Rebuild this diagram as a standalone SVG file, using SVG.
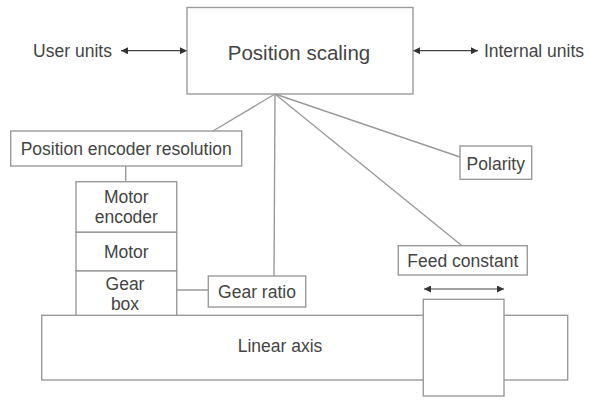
<svg xmlns="http://www.w3.org/2000/svg" width="595" height="401" viewBox="0 0 595 401">
<style>
.box{fill:#fff;stroke:#9a9a9a;stroke-width:1.4}
.ln{fill:none;stroke:#9a9a9a;stroke-width:1.4}
.ar{fill:none;stroke:#444;stroke-width:1.2}
text{font-family:"Liberation Sans",Arial,sans-serif;font-size:17.5px;fill:#444;text-anchor:middle}
.t{font-size:20.5px}
</style>
<defs>
<marker id="ah" viewBox="0 0 10 10" refX="10" refY="5" markerWidth="8" markerHeight="7" markerUnits="userSpaceOnUse" orient="auto-start-reverse">
<path d="M0,0 L10,5 L0,10 Z" fill="#333"/>
</marker>
</defs>
<rect width="595" height="401" fill="#fff"/>
<g id="connectors">
<line class="ar" x1="121" y1="50.7" x2="187" y2="50.7" marker-start="url(#ah)" marker-end="url(#ah)"/>
<line class="ar" x1="413" y1="50.7" x2="478" y2="50.7" marker-start="url(#ah)" marker-end="url(#ah)"/>
<line class="ln" x1="275" y1="94" x2="213" y2="131"/>
<line class="ln" x1="275" y1="94" x2="274" y2="276"/>
<line class="ln" x1="275" y1="94" x2="462" y2="245.7"/>
<line class="ln" x1="275" y1="94" x2="460" y2="157"/>
<line class="ln" x1="125.7" y1="166" x2="125.7" y2="181.7"/>
<line class="ln" x1="176.7" y1="290" x2="208.3" y2="290"/>
<line class="ar" x1="424" y1="289" x2="504" y2="289" marker-start="url(#ah)" marker-end="url(#ah)"/>
</g>
<g id="user-units"><text x="72.5" y="57">User units</text></g>
<g id="internal-units"><text x="534" y="57">Internal units</text></g>
<g id="position-scaling">
<rect class="box" x="187" y="7.5" width="226" height="86.5"/>
<text class="t" x="299" y="60">Position scaling</text>
</g>
<g id="position-encoder-resolution">
<rect class="box" x="10.7" y="131" width="231" height="35"/>
<text x="126.2" y="155">Position encoder resolution</text>
</g>
<g id="polarity">
<rect class="box" x="460" y="146" width="71.7" height="33.3"/>
<text x="495.8" y="170">Polarity</text>
</g>
<g id="linear-axis">
<rect class="box" x="41.7" y="315.3" width="526" height="64.7"/>
<text x="280" y="351.7">Linear axis</text>
</g>
<g id="motor-encoder">
<rect class="box" x="76" y="181.7" width="100.7" height="50.6"/>
<text x="126.3" y="203.3">Motor</text>
<text x="126.3" y="223.3">encoder</text>
</g>
<g id="motor">
<rect class="box" x="76" y="232.3" width="100.7" height="38.7"/>
<text x="126.3" y="258.3">Motor</text>
</g>
<g id="gear-box">
<rect class="box" x="76" y="271" width="100.7" height="44.3"/>
<text x="125" y="290">Gear</text>
<text x="125" y="310">box</text>
</g>
<g id="gear-ratio">
<rect class="box" x="208.3" y="276" width="97.4" height="31"/>
<text x="257" y="297.7">Gear ratio</text>
</g>
<g id="feed-constant">
<rect class="box" x="398.3" y="245.7" width="129" height="29.3"/>
<text x="462.8" y="266.7">Feed constant</text>
</g>
<g id="slider">
<rect class="box" x="423.3" y="299.3" width="80.7" height="96.7"/>
</g>
</svg>
